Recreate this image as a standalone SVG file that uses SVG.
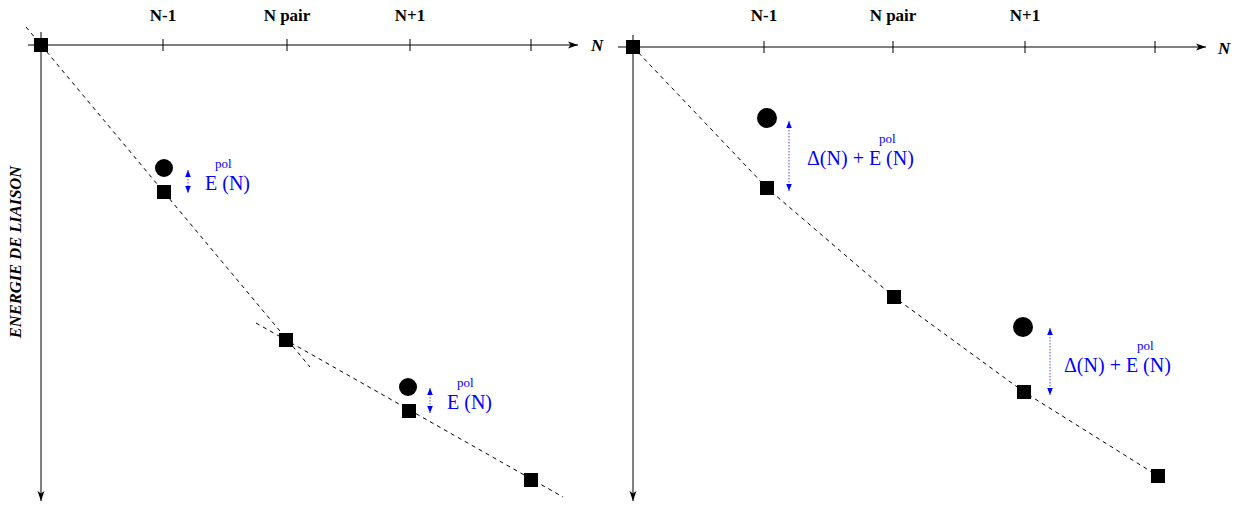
<svg xmlns="http://www.w3.org/2000/svg" width="1235" height="508" viewBox="0 0 1235 508">
<defs>
<marker id="ax" viewBox="0 0 10 10" refX="10" refY="5" markerWidth="10" markerHeight="10" markerUnits="userSpaceOnUse" orient="auto"><path d="M0,1.5 L10,5 L0,8.5 L2.5,5 Z" fill="#000"/></marker>
<marker id="ba" viewBox="0 0 10 10" refX="10" refY="5" markerWidth="7" markerHeight="7" markerUnits="userSpaceOnUse" orient="auto-start-reverse"><path d="M0,1 L10,5 L0,9 Z" fill="#0000ff"/></marker>
<style>
.axis{stroke:#000;stroke-width:1;fill:none}
.tick{stroke:#000;stroke-width:1}
.dash{stroke:#000;stroke-width:1;stroke-dasharray:4 4;fill:none}
.sq{fill:#000}
.dot{fill:#000}
.barr{stroke:#4a4aff;stroke-width:1;stroke-dasharray:1.5 1.5;fill:none;marker-start:url(#ba);marker-end:url(#ba)}
.tl{font-family:"Liberation Serif","Times New Roman",serif;font-weight:bold;font-size:17px;text-anchor:middle;fill:#000}
.nl{font-family:"Liberation Serif","Times New Roman",serif;font-weight:bold;font-style:italic;font-size:17px;fill:#000}
.yl{font-family:"Liberation Serif","Times New Roman",serif;font-weight:bold;font-style:italic;font-size:16.5px;fill:#000}
.bl{font-family:"Liberation Serif","Times New Roman",serif;font-size:20px;fill:#0000ff}
.sup{font-family:"Liberation Serif","Times New Roman",serif;font-size:13px;fill:#0000ff}
</style>
</defs>
<g id="connectors">
<line class="dash" x1="26" y1="27" x2="310" y2="367"/>
<line class="dash" x1="256" y1="323" x2="563" y2="497"/>
<polyline class="dash" points="633,47 767,188 894,297 1024,392 1158,476"/>
<line class="barr" x1="188" y1="170" x2="188" y2="193"/>
<line class="barr" x1="430" y1="388" x2="430" y2="413"/>
<line class="barr" x1="789" y1="121" x2="789" y2="191"/>
<line class="barr" x1="1050" y1="328" x2="1050" y2="395"/>
</g>
<g id="left-axes">
<line class="axis" x1="28" y1="45" x2="578" y2="45" marker-end="url(#ax)"/>
<line class="axis" x1="41" y1="32" x2="41" y2="501" marker-end="url(#ax)"/>
<line class="tick" x1="163" y1="39" x2="163" y2="51"/>
<line class="tick" x1="287" y1="39" x2="287" y2="51"/>
<line class="tick" x1="410" y1="39" x2="410" y2="51"/>
<line class="tick" x1="531" y1="39" x2="531" y2="51"/>
<text class="tl" x="163" y="21">N-1</text>
<text class="tl" x="287" y="21">N pair</text>
<text class="tl" x="410" y="21">N+1</text>
<text class="nl" x="591" y="51">N</text>
<text class="yl" x="21" y="252" text-anchor="middle" transform="rotate(-90 21 252)">ENERGIE DE LIAISON</text>
</g>
<g id="right-axes">
<line class="axis" x1="618" y1="47" x2="1206" y2="47" marker-end="url(#ax)"/>
<line class="axis" x1="633" y1="35" x2="633" y2="501" marker-end="url(#ax)"/>
<line class="tick" x1="764" y1="41" x2="764" y2="53"/>
<line class="tick" x1="893" y1="41" x2="893" y2="53"/>
<line class="tick" x1="1025" y1="41" x2="1025" y2="53"/>
<line class="tick" x1="1155" y1="41" x2="1155" y2="53"/>
<text class="tl" x="764" y="21">N-1</text>
<text class="tl" x="893" y="21">N pair</text>
<text class="tl" x="1025" y="21">N+1</text>
<text class="nl" x="1218" y="54">N</text>
</g>
<g id="L0"><rect class="sq" x="34" y="38" width="14" height="14"/></g>
<g id="L1"><rect class="sq" x="157" y="185" width="14" height="14"/></g>
<g id="L1c"><circle class="dot" cx="164" cy="168" r="9"/></g>
<g id="L2"><rect class="sq" x="279" y="333" width="14" height="14"/></g>
<g id="L3"><rect class="sq" x="402" y="404" width="14" height="14"/></g>
<g id="L3c"><circle class="dot" cx="408" cy="387" r="9"/></g>
<g id="L4"><rect class="sq" x="524" y="473" width="14" height="14"/></g>
<g id="R0"><rect class="sq" x="626" y="40" width="14" height="14"/></g>
<g id="R1"><rect class="sq" x="760" y="181" width="14" height="14"/></g>
<g id="R1c"><circle class="dot" cx="767" cy="118" r="10"/></g>
<g id="R2"><rect class="sq" x="887" y="290" width="14" height="14"/></g>
<g id="R3"><rect class="sq" x="1017" y="385" width="14" height="14"/></g>
<g id="R3c"><circle class="dot" cx="1023" cy="327" r="10"/></g>
<g id="R4"><rect class="sq" x="1151" y="469" width="14" height="14"/></g>
<g id="labels">
<text class="sup" x="215" y="168">pol</text>
<text class="bl" x="205" y="190">E (N)</text>
<text class="sup" x="457" y="387">pol</text>
<text class="bl" x="447" y="409">E (N)</text>
<text class="sup" x="879" y="143">pol</text>
<text class="bl" x="807" y="165">Δ(N) + E (N)</text>
<text class="sup" x="1137" y="350">pol</text>
<text class="bl" x="1064" y="372">Δ(N) + E (N)</text>
</g>
</svg>
